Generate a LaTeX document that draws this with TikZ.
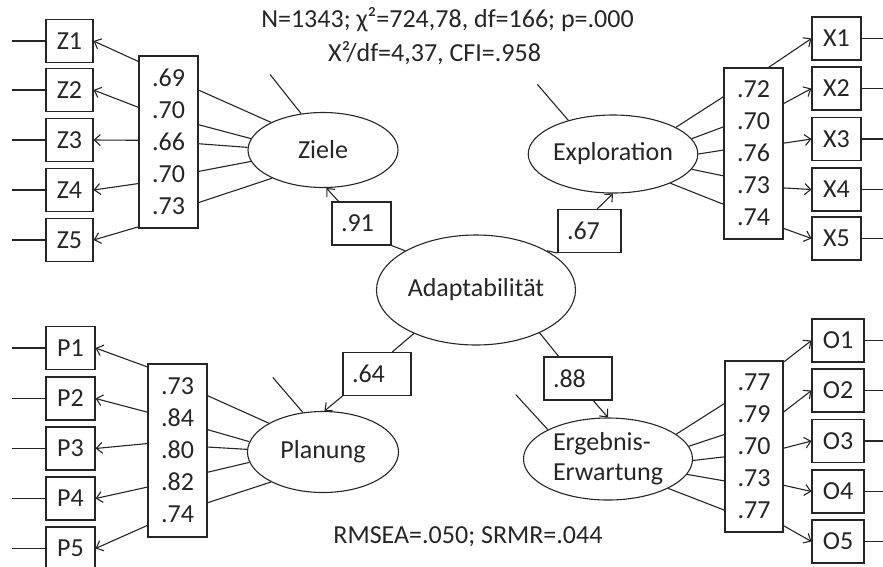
\documentclass[tikz,border=0pt]{standalone}
\usepackage{fontspec}
\setmainfont{Carlito}
\usetikzlibrary{shapes.geometric,calc,arrows.meta}

\begin{document}
\begin{tikzpicture}[x=1pt,y=-1pt,line width=1.1pt,color=black!85,
  >={Straight Barb[length=6pt,width=11pt]},
  every node/.style={font=\fontsize{26}{32}\selectfont},
  item/.style={draw, minimum width=49pt, minimum height=43pt, inner sep=0pt},
  load/.style={draw, minimum width=59pt, inner sep=0pt, align=center},
  latent/.style={draw, ellipse, inner sep=0pt},
  pbox/.style={draw, minimum height=43pt, inner xsep=9pt, inner ysep=0pt, align=left}]
  \useasboundingbox (0,0) rectangle (883,566);

  \node[latent, minimum width=199pt, minimum height=110pt] (adapt) at (476,290) {Adaptabilität};
  \node[latent, minimum width=150pt, minimum height=75pt] (ziele) at (323,150) {Ziele};
  \node[latent, minimum width=153pt, minimum height=78pt] (expl) at (613,154) {Exploration};
  \node[latent, minimum width=151pt, minimum height=81pt] (plan) at (323,452) {Planung};
  \node[latent, minimum width=169pt, minimum height=82pt, align=left,
        font=\fontsize{26}{30}\selectfont] (erg) at (608,459) {Ergebnis-\\Erwartung};

  \node[pbox, text width=41pt] (l91) at (361.5,223.5) {.91};
  \node[pbox, text width=45pt] (l67) at (589.5,231) {.67};
  \node[pbox, text width=50pt] (l64) at (377,374) {.64};
  \node[pbox, text width=50pt] (l88) at (578,378.5) {.88};

  \node[load, minimum height=172pt] (lz) at (168.5,142) {.69\\.70\\.66\\.70\\.73};
  \node[load, minimum height=171pt] (lx) at (753.5,153.5) {.72\\.70\\.76\\.73\\.74};
  \node[load, minimum height=173pt] (lp) at (177.5,450.5) {.73\\.84\\.80\\.82\\.74};
  \node[load, minimum height=171pt, minimum width=58pt] (lo) at (754,446.5) {.77\\.79\\.70\\.73\\.77};

  \foreach \i/\y in {1/41,2/90,3/140,4/190,5/240} {
    \node[item, minimum width=47pt] (z\i) at (69.5,\y) {Z\i};
    \draw (z\i.west) -- ++(-33,0);
  }
  \foreach \i/\y in {1/38.5,2/88.5,3/139,4/189.5,5/238.5} {
    \node[item] (x\i) at (836.5,\y) {X\i};
    \draw (x\i.east) -- ++(30,0);
  }
  \foreach \i/\y in {1/348,2/398.5,3/448.5,4/498.5,5/548.5} {
    \node[item] (p\i) at (70.5,\y) {P\i};
    \draw (p\i.west) -- ++(-33,0);
  }
  \foreach \i/\y in {1/340.5,2/390.5,3/441,4/491.5,5/541.5} {
    \node[item, minimum width=52pt] (o\i) at (838,\y) {O\i};
    \draw (o\i.east) -- ++(30,0);
  }

  \foreach \a/\f in {152/.2,171/.4,178/.51,189/.67,209/.85}
    \draw (ziele.\a) -- ($(lz.north east)!\f!(lz.south east)$);
  \foreach \i/\f in {1/.035,2/.3,3/.49,4/.74,5/.99}
    \draw[->] ($(lz.north west)!\f!(lz.south west)$) -- (z\i.east);

  \foreach \a/\f in {23/.17,11/.345,0/.48,-11/.63,-27/.795}
    \draw (expl.\a) -- ($(lx.north west)!\f!(lx.south west)$);
  \draw[->] ($(lx.north west)!.75!(lx.north east)$) -- (x1.west);
  \foreach \i/\f in {2/.21,3/.44,4/.7,5/.935}
    \draw[->] ($(lx.north east)!\f!(lx.south east)$) -- (x\i.west);

  \foreach \a/\f in {152/.185,172/.38,178/.48,188/.625,210/.8}
    \draw (plan.\a) -- ($(lp.north east)!\f!(lp.south east)$);
  \foreach \i/\f in {1/.02,2/.28,3/.46,4/.71,5/.93}
    \draw[->] ($(lp.north west)!\f!(lp.south west)$) -- (p\i.east);

  \foreach \a/\f in {20/.25,9/.43,-1/.56,-11/.7,-26/.87}
    \draw (erg.\a) -- ($(lo.north west)!\f!(lo.south west)$);
  \foreach \i/\f in {1/.01,2/.3,3/.51,4/.725,5/.96}
    \draw[->] ($(lo.north east)!\f!(lo.south east)$) -- (o\i.west);

  \draw (adapt.151) -- (l91.south east);
  \draw[->] ($(l91.north west)!.12!(l91.north east)$) -- (ziele.-85);
  \draw (adapt.29) -- (l67.south west);
  \draw[->] ($(l67.north west)!.62!(l67.north east)$) -- (expl.south);
  \draw (adapt.215) -- ($(l64.north west)!.72!(l64.north east)$);
  \draw[->] (l64.south west) -- (plan.88);
  \draw (adapt.-34) -- ($(l88.north west)!.22!(l88.north east)$);
  \draw[->] ($(l88.south west)!.72!(l88.south east)$) -- (erg.north);

  \draw (ziele.121) -- ++(-31,-39);
  \draw (expl.143) -- ++(-31,-36);
  \draw (plan.117) -- ++(-30,-35);
  \draw (erg.154) -- ++(-32,-35);

  \node (fit1) at (447.5,20) {N=1343; χ²=724,78, df=166; p=.000};
  \node (fit2) at (434.5,53) {X²/df=4,37, CFI=.958};
  \node (fit3) at (468,537) {RMSEA=.050; SRMR=.044};
\end{tikzpicture}
\end{document}
